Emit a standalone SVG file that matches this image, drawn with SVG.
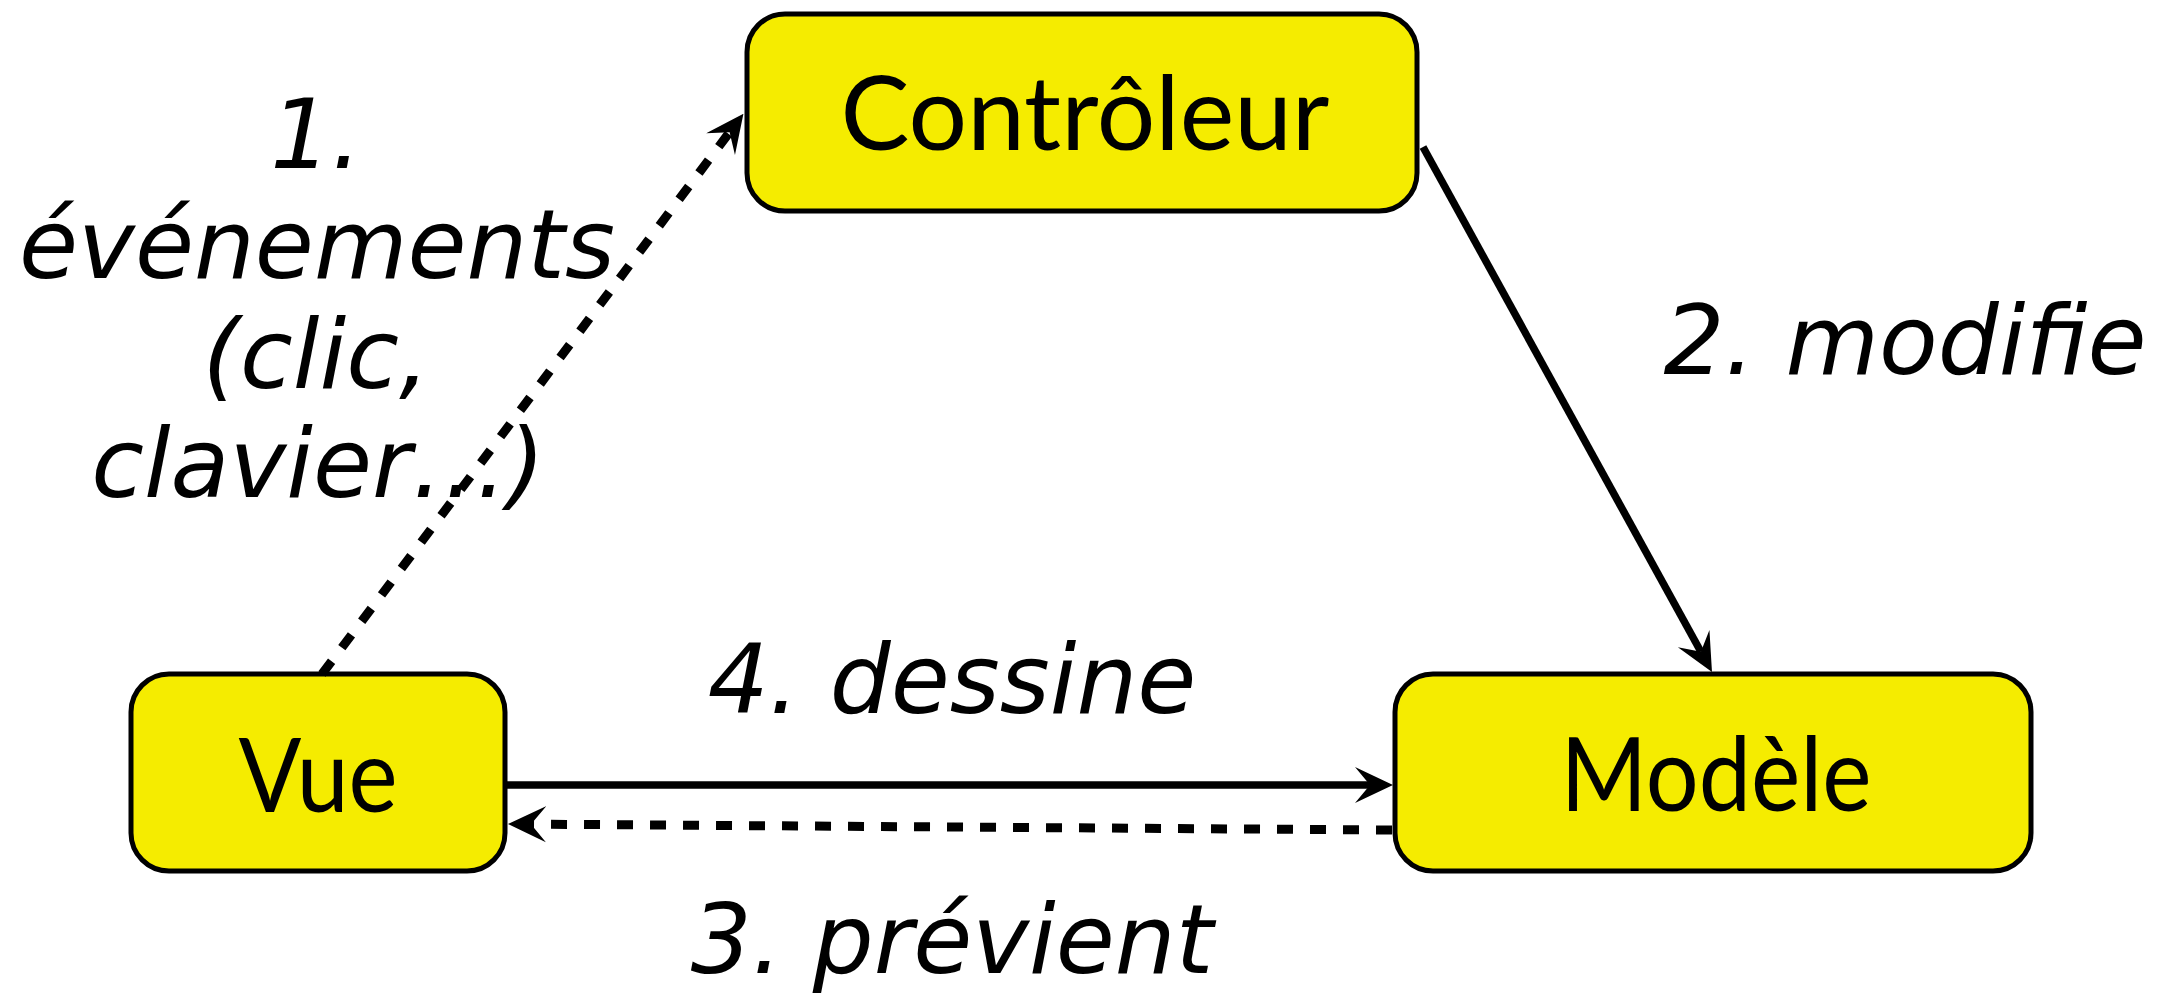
<svg xmlns="http://www.w3.org/2000/svg" width="2162" height="993" viewBox="0 0 2162 993">
  <style>
    .box { fill: #f5ec00; stroke: #000; stroke-width: 5; }
    .ntext { font-family: Lato, "Open Sans", "DejaVu Sans", sans-serif; font-size: 102px; fill: #000; text-anchor: middle; }
    .lbl { font-family: "DejaVu Sans", sans-serif; font-style: italic; font-size: 96px; fill: #000; text-anchor: middle; }
    .solid { fill: none; stroke: #000; stroke-width: 7.5; }
    .dash { fill: none; stroke: #000; stroke-width: 9; stroke-dasharray: 16 17; }
  </style>
  <defs>
    <marker id="arrow" viewBox="0 0 38 38" markerWidth="38" markerHeight="38" refX="15" refY="19" orient="auto" markerUnits="userSpaceOnUse">
      <path d="M38,19 L0,1 L15,19 L0,37 Z" fill="#000"/>
    </marker>
  </defs>
  <rect width="2162" height="993" fill="#fff"/>

  <g id="controleur">
    <rect class="box" x="747" y="14" width="670" height="197" rx="38" ry="38"/>
    <text class="ntext" x="1085" y="150" textLength="489" lengthAdjust="spacingAndGlyphs">Contrôleur</text>
  </g>
  <g id="vue">
    <rect class="box" x="131" y="674" width="374" height="197" rx="38" ry="38"/>
    <text class="ntext" x="318" y="812" textLength="159" lengthAdjust="spacingAndGlyphs">Vue</text>
  </g>
  <g id="modele">
    <rect class="box" x="1395" y="674" width="636" height="197" rx="38" ry="38"/>
    <text class="ntext" x="1716" y="811" textLength="311" lengthAdjust="spacingAndGlyphs">Modèle</text>
  </g>

  <g id="connectors">
    <line class="dash" x1="322" y1="674" x2="729.6" y2="132.2" marker-end="url(#arrow)"/>
    <line class="solid" x1="1423" y1="147" x2="1700.9" y2="651.8" marker-end="url(#arrow)"/>
    <line class="solid" x1="507" y1="785" x2="1370" y2="785" marker-end="url(#arrow)"/>
    <line class="dash" x1="1392" y1="830" x2="531" y2="824.15" marker-end="url(#arrow)"/>
  </g>

  <g id="labels">
    <text class="lbl" x="316" y="168">1.</text>
    <text class="lbl" x="317" y="278">événements</text>
    <text class="lbl" x="316" y="388">(clic,</text>
    <text class="lbl" x="318" y="497">clavier…)</text>
    <text class="lbl" x="1905" y="374">2. modifie</text>
    <text class="lbl" x="952" y="713">4. dessine</text>
    <text class="lbl" x="952" y="973">3. prévient</text>
  </g>
</svg>
